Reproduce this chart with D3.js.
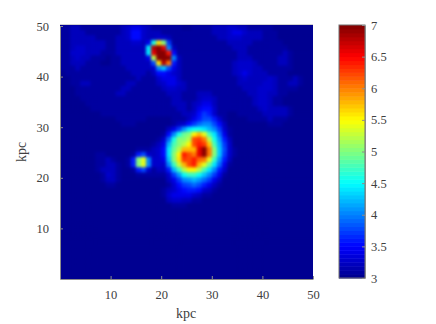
<!DOCTYPE html>
<html>
<head>
<meta charset="utf-8">
<script src="https://d3js.org/d3.v7.min.js"></script>
<style>
  html, body { margin: 0; background: #fff; }
  text { font-family: "Liberation Serif", serif; fill: #404040; }
</style>
</head>
<body>
<div id="chart"></div>
<script>
// cell values in tenths, top row (y = 50) first
var rows = [
[31,31,32,32,31,31,31,31,31,31,31,31,32,33,34,34,33,32,31,31,31,31,31,31,30,30,31,31,31,31,32,32,32,33,33,32,32,31,31,31,31,31,30,30,30,30,30,30,30,30],
[31,31,32,32,32,31,31,31,31,31,31,31,32,33,35,35,33,32,32,32,31,31,31,31,31,31,31,31,31,31,32,32,32,33,34,34,33,32,32,32,31,31,31,30,30,30,30,30,30,30],
[31,31,32,32,32,32,32,31,31,31,31,32,32,33,35,35,33,32,32,33,33,32,31,31,31,31,31,31,31,31,31,32,32,33,33,33,32,32,32,32,31,31,31,30,30,30,30,30,30,30],
[31,31,32,32,32,32,32,32,32,31,31,32,32,32,33,33,32,34,46,56,50,37,31,31,31,31,31,31,31,31,31,31,31,32,32,32,32,32,31,31,31,31,31,31,30,30,30,30,30,30],
[31,31,32,33,33,32,32,32,32,31,31,32,32,32,32,32,32,44,68,74,66,40,32,31,31,31,31,31,31,31,31,31,31,31,32,32,32,31,31,31,31,31,31,31,31,30,30,30,30,30],
[31,31,33,33,33,32,32,32,31,31,31,32,32,32,32,32,32,44,66,72,74,64,35,31,31,31,31,31,31,31,31,31,31,31,31,32,32,31,31,31,31,31,31,31,32,31,30,30,30,30],
[31,31,32,33,32,32,31,31,31,30,31,31,32,32,32,32,32,34,52,72,76,72,40,32,31,31,31,31,31,31,31,31,31,31,31,32,32,32,31,31,31,31,31,32,32,31,30,30,30,30],
[31,31,32,32,32,31,31,31,30,30,31,31,32,32,32,32,32,32,38,56,68,60,36,32,31,31,31,31,31,31,31,31,31,31,32,33,33,33,32,31,31,31,31,32,32,31,30,30,30,30],
[31,31,31,32,31,31,31,31,31,31,31,31,31,32,32,32,32,32,33,40,43,38,34,32,31,31,31,31,31,31,31,31,31,31,32,33,33,33,32,32,31,31,31,31,31,31,30,30,30,30],
[30,31,31,31,31,31,31,31,31,31,31,31,31,31,32,32,32,31,32,35,35,34,33,32,31,31,31,31,31,31,31,31,31,31,32,33,34,33,32,32,32,31,31,31,31,30,30,30,30,30],
[30,30,31,31,31,31,31,31,31,31,31,31,31,31,31,32,31,31,31,33,34,34,34,32,31,31,31,31,31,31,31,31,31,31,31,32,33,32,32,32,32,33,32,31,31,31,32,31,30,30],
[30,30,31,31,32,32,31,31,31,31,31,31,31,32,32,31,31,31,31,32,33,34,34,33,32,31,31,31,31,31,31,31,31,31,31,32,32,32,32,32,33,33,32,31,31,32,32,31,30,30],
[30,30,30,31,31,31,31,31,31,31,31,31,32,32,31,31,31,31,31,31,32,33,33,32,32,31,31,31,31,31,31,31,31,31,31,31,32,32,32,33,33,33,32,31,31,31,31,30,30,30],
[30,30,30,31,31,31,31,31,31,31,31,32,32,31,31,31,31,31,31,31,31,32,32,32,31,31,31,32,32,32,31,31,31,31,31,31,31,32,32,33,33,32,32,31,31,30,30,30,30,30],
[30,30,30,30,31,31,31,31,31,31,31,31,31,31,31,31,31,31,31,31,31,31,32,32,31,31,31,32,33,33,32,31,31,31,31,31,31,31,32,33,33,32,31,31,30,30,30,30,30,30],
[30,30,30,30,30,31,31,31,31,31,31,31,31,31,31,31,31,31,31,31,31,31,32,32,32,31,32,33,34,34,32,31,31,31,31,31,31,31,32,33,33,32,31,31,30,30,30,30,30,30],
[30,30,30,30,30,30,31,31,31,31,31,31,31,31,31,31,31,31,31,31,31,31,31,32,32,31,32,34,35,35,33,31,31,31,31,31,31,31,31,32,33,32,32,32,32,31,30,30,30,30],
[30,30,30,30,30,30,30,30,31,31,31,31,31,31,31,31,31,31,31,31,31,31,31,31,32,32,33,35,37,36,33,31,31,30,30,31,31,31,31,31,32,32,32,32,32,31,30,30,30,30],
[30,30,30,30,30,30,30,30,30,30,30,31,31,31,31,31,31,30,30,30,30,30,31,31,31,32,34,36,38,38,36,33,31,30,30,30,30,31,31,31,31,32,31,31,31,30,30,30,30,30],
[30,30,30,30,30,30,30,30,30,30,30,30,31,31,31,30,30,30,30,30,30,30,31,32,33,35,37,39,40,40,38,35,32,30,30,30,30,30,30,30,30,31,31,31,30,30,30,30,30,30],
[30,30,30,30,30,30,30,30,30,30,30,30,30,30,30,30,30,30,30,30,30,32,34,37,41,44,45,45,44,42,40,37,33,31,30,30,30,30,30,30,30,30,30,30,30,30,30,30,30,30],
[30,30,30,30,30,30,30,30,30,30,30,30,30,30,30,30,30,30,30,30,31,35,40,46,49,50,55,58,54,48,44,39,34,31,30,30,30,30,30,30,30,30,30,30,30,30,30,30,30,30],
[30,30,30,30,30,30,30,30,30,30,30,30,30,30,30,30,30,30,30,31,33,39,46,50,50,52,62,63,60,52,46,41,36,32,30,30,30,30,30,30,30,30,30,30,30,30,30,30,30,30],
[30,30,30,30,30,30,30,30,30,30,30,30,30,30,30,30,30,30,31,32,34,42,48,50,52,55,62,64,63,57,48,42,37,33,30,30,30,30,30,30,30,30,30,30,30,30,30,30,30,30],
[30,30,30,30,30,30,30,30,30,30,30,30,30,30,30,31,31,31,32,33,35,44,49,52,58,58,58,66,70,60,50,43,38,33,31,30,30,30,30,30,30,30,30,30,30,30,30,30,30,30],
[30,30,30,30,30,30,30,31,31,30,30,30,30,30,31,36,38,33,32,33,35,44,50,55,64,62,60,66,70,60,50,43,37,33,31,30,30,30,30,30,30,30,30,30,30,30,30,30,30,30],
[30,30,30,30,30,30,30,31,31,32,31,30,30,31,36,50,54,40,33,33,34,43,50,56,63,62,64,61,60,54,47,41,36,32,30,30,30,30,30,30,30,30,30,30,30,30,30,30,30,30],
[30,30,30,30,30,30,30,31,31,32,32,31,30,31,36,50,54,40,33,33,33,40,47,53,58,62,64,58,54,49,44,39,34,31,30,30,30,30,30,30,30,30,30,30,30,30,30,30,30,30],
[30,30,30,30,30,30,30,31,32,32,32,31,30,30,31,36,38,33,31,32,32,36,42,47,52,55,55,52,48,44,40,36,33,30,30,30,30,30,30,30,30,30,30,30,30,30,30,30,30,30],
[30,30,30,30,30,30,30,30,31,33,32,31,30,30,30,31,31,31,31,31,31,33,37,41,45,47,47,45,43,40,37,34,31,30,30,30,30,30,30,30,30,30,30,30,30,30,30,30,30,30],
[30,30,30,30,30,30,30,30,31,32,32,31,30,30,30,30,30,30,30,30,30,32,34,37,40,41,42,41,39,37,34,32,30,30,30,30,30,30,30,30,30,30,30,30,30,30,30,30,30,30],
[30,30,30,30,30,30,30,30,30,31,31,30,30,30,30,30,30,30,30,30,30,31,33,35,37,38,39,38,36,34,32,31,30,30,30,30,30,30,30,30,30,30,30,30,30,30,30,30,30,30],
[30,30,30,30,30,30,30,30,30,30,30,30,30,30,30,30,30,30,30,30,31,32,33,34,35,36,36,35,33,32,31,30,30,30,30,30,30,30,30,30,30,30,30,30,30,30,30,30,30,30],
[30,30,30,30,30,30,30,30,30,30,30,30,30,30,30,30,30,30,30,30,31,33,34,34,34,34,33,32,31,31,30,30,30,30,30,30,30,30,30,30,30,30,30,30,30,30,30,30,30,30],
[30,30,30,30,30,30,30,30,30,30,30,30,30,30,30,30,30,30,30,30,30,32,33,33,32,32,31,31,30,30,30,30,30,30,30,30,30,30,30,30,30,30,30,30,30,30,30,30,30,30],
[30,30,30,30,30,30,30,30,30,30,30,30,30,30,30,30,30,30,30,30,30,30,31,31,31,30,30,30,30,30,30,30,30,30,30,30,30,30,30,30,30,30,30,30,30,30,30,30,30,30],
[30,30,30,30,30,30,30,30,30,30,30,30,30,30,30,30,30,30,30,30,30,30,30,30,30,30,30,30,30,30,30,30,30,30,30,30,30,30,30,30,30,30,30,30,30,30,30,30,30,30],
[30,30,30,30,30,30,30,30,30,30,30,30,30,30,30,30,30,30,30,30,30,30,30,30,30,30,30,30,30,30,30,30,30,30,30,30,30,30,30,30,30,30,30,30,30,30,30,30,30,30],
[30,30,30,30,30,30,30,30,30,30,30,30,30,30,30,30,30,30,30,30,30,30,30,30,30,30,30,30,30,30,30,30,30,30,30,30,30,30,30,30,30,30,30,30,30,30,30,30,30,30],
[30,30,30,30,30,30,30,30,30,30,30,30,30,30,30,30,30,30,30,30,30,30,30,30,30,30,30,30,30,30,30,30,30,30,30,30,30,30,30,30,30,30,30,30,30,30,30,30,30,30],
[30,30,30,30,30,30,30,30,30,30,30,30,30,30,30,30,30,30,30,30,30,30,30,30,30,30,30,30,30,30,30,30,30,30,30,30,30,30,30,30,30,30,30,30,30,30,30,30,30,30],
[30,30,30,30,30,30,30,30,30,30,30,30,30,30,30,30,30,30,30,30,30,30,30,30,30,30,30,30,30,30,30,30,30,30,30,30,30,30,30,30,30,30,30,30,30,30,30,30,30,30],
[30,30,30,30,30,30,30,30,30,30,30,30,30,30,30,30,30,30,30,30,30,30,30,30,30,30,30,30,30,30,30,30,30,30,30,30,30,30,30,30,30,30,30,30,30,30,30,30,30,30],
[30,30,30,30,30,30,30,30,30,30,30,30,30,30,30,30,30,30,30,30,30,30,30,30,30,30,30,30,30,30,30,30,30,30,30,30,30,30,30,30,30,30,30,30,30,30,30,30,30,30],
[30,30,30,30,30,30,30,30,30,30,30,30,30,30,30,30,30,30,30,30,30,30,30,30,30,30,30,30,30,30,30,30,30,30,30,30,30,30,30,30,30,30,30,30,30,30,30,30,30,30],
[30,30,30,30,30,30,30,30,30,30,30,30,30,30,30,30,30,30,30,30,30,30,30,30,30,30,30,30,30,30,30,30,30,30,30,30,30,30,30,30,30,30,30,30,30,30,30,30,30,30],
[30,30,30,30,30,30,30,30,30,30,30,30,30,30,30,30,30,30,30,30,30,30,30,30,30,30,30,30,30,30,30,30,30,30,30,30,30,30,30,30,30,30,30,30,30,30,30,30,30,30],
[30,30,30,30,30,30,30,30,30,30,30,30,30,30,30,30,30,30,30,30,30,30,30,30,30,30,30,30,30,30,30,30,30,30,30,30,30,30,30,30,30,30,30,30,30,30,30,30,30,30],
[30,30,30,30,30,30,30,30,30,30,30,30,30,30,30,30,30,30,30,30,30,30,30,30,30,30,30,30,30,30,30,30,30,30,30,30,30,30,30,30,30,30,30,30,30,30,30,30,30,30],
[30,30,30,30,30,30,30,30,30,30,30,30,30,30,30,30,30,30,30,30,30,30,30,30,30,30,30,30,30,30,30,30,30,30,30,30,30,30,30,30,30,30,30,30,30,30,30,30,30,30]
];
var axisTicks = [10, 20, 30, 40, 50];
var barTicks = [3, 3.5, 4, 4.5, 5, 5.5, 6, 6.5, 7];
var jetStops = [3, 3.5, 4.5, 5.5, 6.5, 7];
var jetColors = ["#00008a", "#0000ff", "#00ffff", "#ffff00", "#ff0000", "#800000"];

var size = { width: 436, height: 324 };
var plot = { left: 60, right: 313, top: 25, bottom: 279 };
var bar = { left: 339, right: 365 };
var grey = "#8c8c8c";

var jet = d3.scaleLinear().domain(jetStops).range(jetColors).clamp(true);
var levels = d3.range(64).map(function(i){ return jet(3 + (i + 0.5) / 16); });
var color = d3.scaleQuantize().domain([3, 7]).range(levels);

var svg = d3.select("#chart").append("svg")
  .attr("width", size.width)
  .attr("height", size.height)
  .style("display", "block");

svg.append("clipPath").attr("id", "plot-clip").append("rect")
  .attr("x", plot.left).attr("y", plot.top)
  .attr("width", plot.right - plot.left).attr("height", plot.bottom - plot.top);

var colScale = d3.scaleBand().domain(d3.range(50)).range([plot.left, plot.right]);
var rowScale = d3.scaleBand().domain(d3.range(50)).range([plot.top, plot.bottom]);
var x = d3.scaleLinear().domain([0, 50]).range([plot.left, plot.right]);
var y = d3.scaleLinear().domain([0, 50]).range([plot.bottom, plot.top + 1]);

var heat = svg.append("g").attr("clip-path", "url(#plot-clip)");
heat.append("rect")
  .attr("x", plot.left).attr("y", plot.top)
  .attr("width", plot.right - plot.left).attr("height", plot.bottom - plot.top)
  .attr("fill", color(3));
var cells = heat.append("g").style("filter", "blur(1.6px)");
rows.forEach(function(row, j){
  cells.selectAll("rect.r" + j)
    .data(row)
    .enter()
    .append("rect")
    .attr("class", "r" + j)
    .attr("x", function(d, i){ return colScale(i); })
    .attr("y", rowScale(j))
    .attr("width", colScale.bandwidth() + 0.5)
    .attr("height", rowScale.bandwidth() + 0.5)
    .attr("fill", function(d){ return color(d / 10); });
});

// box: darker on the left and bottom, pale along the top
svg.append("rect")
  .attr("x", plot.left).attr("y", plot.top - 1)
  .attr("width", plot.right - plot.left).attr("height", 1)
  .attr("fill", "#d0d0d0");

function styleAxis(g){
  g.selectAll("path.domain").attr("stroke", grey);
  g.selectAll("line").attr("stroke", grey);
  g.selectAll("text").style("font-size", "12.5px").attr("fill", "#404040");
}

svg.append("g")
  .attr("transform", "translate(0," + plot.bottom + ")")
  .call(d3.axisBottom(x).tickValues(axisTicks).tickSizeInner(-3).tickSizeOuter(0).tickPadding(11))
  .call(styleAxis);
svg.append("g")
  .attr("transform", "translate(" + plot.left + ",0)")
  .call(d3.axisLeft(y).tickValues(axisTicks).tickSizeInner(-3).tickSizeOuter(0).tickPadding(11))
  .call(styleAxis);

svg.append("text")
  .attr("x", 186).attr("y", 318)
  .attr("text-anchor", "middle")
  .style("font-size", "14px")
  .text("kpc");
svg.append("text")
  .attr("transform", "translate(26,152) rotate(-90)")
  .attr("text-anchor", "middle")
  .style("font-size", "14px")
  .text("kpc");

// colour bar
var barY = d3.scaleLinear().domain([3, 7]).range([plot.bottom - 1, plot.top]);
svg.append("g").selectAll("rect")
  .data(levels)
  .enter()
  .append("rect")
  .attr("x", bar.left)
  .attr("y", function(d, i){ return barY(3 + (i + 1) / 16); })
  .attr("width", bar.right - bar.left)
  .attr("height", barY(3) - barY(3 + 1 / 16) + 0.5)
  .attr("fill", function(d){ return d; });
svg.append("rect")
  .attr("x", bar.left).attr("y", plot.top)
  .attr("width", bar.right - bar.left).attr("height", plot.bottom - 1 - plot.top)
  .attr("fill", "none")
  .attr("stroke", "#707070");
svg.append("g")
  .attr("transform", "translate(" + bar.right + ",0)")
  .call(d3.axisRight(barY).tickValues(barTicks).tickFormat(d3.format("")).tickSizeInner(-3).tickSizeOuter(0).tickPadding(6))
  .call(styleAxis);
</script>
</body>
</html>
